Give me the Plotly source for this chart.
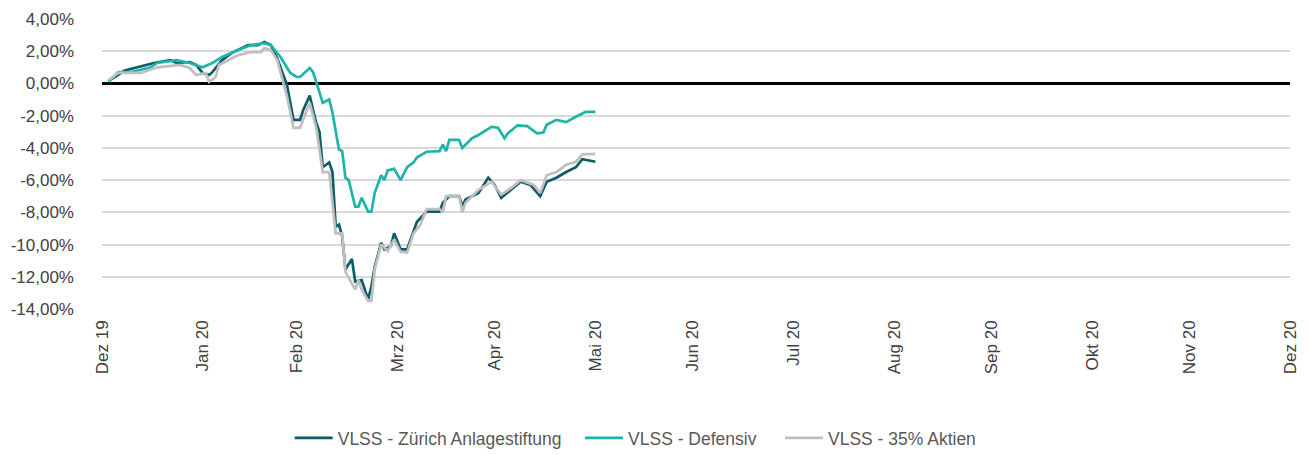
import plotly.graph_objects as go

# ---- data (YTD performance in %) ----
zurich_dates = ["2020-01-02","2020-01-07","2020-01-16","2020-01-21","2020-01-23","2020-01-27","2020-01-29","2020-01-31",
    "2020-02-02","2020-02-03","2020-02-06","2020-02-09","2020-02-14","2020-02-17","2020-02-19","2020-02-21","2020-02-23",
    "2020-02-25","2020-02-26","2020-02-28","2020-03-01","2020-03-02","2020-03-04","2020-03-05","2020-03-06","2020-03-07",
    "2020-03-08","2020-03-10","2020-03-11","2020-03-12","2020-03-13","2020-03-14","2020-03-15","2020-03-17","2020-03-18",
    "2020-03-20","2020-03-22","2020-03-23","2020-03-24","2020-03-26","2020-03-27","2020-03-29","2020-03-30","2020-03-31",
    "2020-04-01","2020-04-03","2020-04-05","2020-04-06","2020-04-09","2020-04-13","2020-04-14","2020-04-16","2020-04-19",
    "2020-04-20","2020-04-21","2020-04-25","2020-04-28","2020-04-30","2020-05-02","2020-05-05","2020-05-08","2020-05-11",
    "2020-05-14","2020-05-16","2020-05-19","2020-05-22","2020-05-25","2020-05-27","2020-05-31"]
zurich_vals = [0.15, 0.8, 1.27, 1.45, 1.27, 1.33, 1.15, 0.65,
    0.53, 0.7, 1.45, 1.9, 2.38, 2.38, 2.57, 2.38, 1.55,
    0.4, -0.1, -2.26, -2.26, -1.64, -0.75, -1.64, -2.45, -3.0,
    -5.2, -4.9, -5.5, -8.9, -8.76, -9.5, -11.55, -10.9, -12.3,
    -12.2, -13.4, -12.6, -11.4, -9.9, -10.3, -10.1, -9.3, -9.8,
    -10.3, -10.3, -9.1, -8.6, -7.96, -7.96, -7.4, -7.0, -7.0,
    -7.6, -7.2, -6.8, -5.85, -6.3, -7.1, -6.6, -6.1, -6.3,
    -7.0, -6.1, -5.85, -5.5, -5.2, -4.7, -4.86]

defensiv_dates = ["2020-01-02","2020-01-05","2020-01-09","2020-01-15","2020-01-17","2020-01-23","2020-01-27","2020-01-31",
    "2020-02-03","2020-02-06","2020-02-11","2020-02-15","2020-02-19","2020-02-21","2020-02-24","2020-02-27","2020-02-29",
    "2020-03-01","2020-03-04","2020-03-05","2020-03-06","2020-03-08","2020-03-10","2020-03-11","2020-03-13","2020-03-14",
    "2020-03-15","2020-03-16","2020-03-18","2020-03-19","2020-03-20","2020-03-22","2020-03-23","2020-03-24","2020-03-26",
    "2020-03-27","2020-03-28","2020-03-30","2020-04-01","2020-04-03","2020-04-05","2020-04-06","2020-04-09","2020-04-13",
    "2020-04-14","2020-04-15","2020-04-16","2020-04-19","2020-04-20","2020-04-23","2020-04-25","2020-04-29","2020-05-01",
    "2020-05-03","2020-05-04","2020-05-07","2020-05-10","2020-05-13","2020-05-15","2020-05-16","2020-05-19","2020-05-22",
    "2020-05-25","2020-05-28","2020-05-31"]
defensiv_vals = [0.1, 0.7, 0.7, 1.0, 1.27, 1.45, 1.27, 1.0,
    1.27, 1.64, 2.07, 2.38, 2.5, 2.38, 1.64, 0.65, 0.4,
    0.4, 0.96, 0.7, 0.1, -1.2, -1.0, -1.8, -4.1, -4.2,
    -5.85, -6.0, -7.65, -7.65, -7.1, -7.96, -7.96, -6.8, -5.7,
    -6.0, -5.4, -5.3, -6.0, -5.2, -4.9, -4.6, -4.24, -4.2,
    -3.8, -4.2, -3.5, -3.5, -4.0, -3.4, -3.2, -2.7, -2.75,
    -3.4, -3.1, -2.6, -2.65, -3.1, -3.05, -2.57, -2.26, -2.4,
    -2.07, -1.76, -1.76]

aktien_dates = ["2020-01-02","2020-01-05","2020-01-12","2020-01-17","2020-01-24","2020-01-27","2020-01-29","2020-02-01",
    "2020-02-02","2020-02-04","2020-02-05","2020-02-11","2020-02-15","2020-02-18","2020-02-19","2020-02-21","2020-02-23",
    "2020-02-25","2020-02-26","2020-02-28","2020-03-01","2020-03-04","2020-03-06","2020-03-08","2020-03-10","2020-03-12",
    "2020-03-14","2020-03-15","2020-03-18","2020-03-19","2020-03-20","2020-03-22","2020-03-23","2020-03-24","2020-03-26",
    "2020-03-28","2020-03-30","2020-04-01","2020-04-03","2020-04-05","2020-04-07","2020-04-09","2020-04-13","2020-04-14",
    "2020-04-15","2020-04-19","2020-04-20","2020-04-21","2020-04-25","2020-04-29","2020-05-02","2020-05-05","2020-05-08",
    "2020-05-12","2020-05-14","2020-05-16","2020-05-19","2020-05-22","2020-05-25","2020-05-27","2020-05-31"]
aktien_vals = [0.2, 0.65, 0.65, 1.0, 1.15, 0.96, 0.53, 0.65,
    0.1, 0.4, 1.15, 1.76, 1.95, 1.95, 2.2, 2.07, 1.45,
    0.03, -0.83, -2.76, -2.76, -1.2, -2.76, -5.5, -5.5, -9.3,
    -9.3, -11.7, -12.8, -12.2, -12.8, -13.5, -13.5, -11.55, -10.0,
    -10.4, -9.7, -10.45, -10.5, -9.3, -8.8, -7.8, -7.8, -8.0,
    -7.0, -7.0, -8.0, -7.4, -6.6, -6.1, -6.9, -6.5, -6.0,
    -6.3, -6.8, -5.7, -5.5, -5.05, -4.86, -4.4, -4.37]

series_names = ["VLSS - Zürich Anlagestiftung", "VLSS - Defensiv", "VLSS - 35% Aktien"]

x_tick_dates = ["2019-12-31","2020-01-31","2020-02-29","2020-03-31","2020-04-30","2020-05-31","2020-06-30",
    "2020-07-31","2020-08-31","2020-09-30","2020-10-31","2020-11-30","2020-12-31"]
x_tick_labels = ["Dez 19","Jan 20","Feb 20","Mrz 20","Apr 20","Mai 20","Jun 20",
    "Jul 20","Aug 20","Sep 20","Okt 20","Nov 20","Dez 20"]
y_tick_vals = [4, 2, 0, -2, -4, -6, -8, -10, -12, -14]
y_tick_labels = ["4,00%","2,00%","0,00%","-2,00%","-4,00%","-6,00%","-8,00%","-10,00%","-12,00%","-14,00%"]

colors = ["#0e5c68", "#1db5a9", "#bfbfbf"]
legend_ids = ["legend", "legend2", "legend3"]
legend_x = [0.158, 0.4024, 0.5707]

fig = go.Figure()
for name, xs, ys, c, lg in zip(series_names,
                               [zurich_dates, defensiv_dates, aktien_dates],
                               [zurich_vals, defensiv_vals, aktien_vals], colors, legend_ids):
    fig.add_trace(go.Scatter(x=xs, y=ys, mode="lines", name=name, legend=lg,
                             line=dict(color=c, width=2.7)))

font_family = "Liberation Sans, Arial, sans-serif"
legend_common = dict(orientation="h", xanchor="left", yref="container", y=0.038, yanchor="middle",
                     font=dict(size=17.5, color="#595959"), bgcolor="rgba(0,0,0,0)",
                     itemwidth=38)
layout_legends = {lg: dict(x=lx, **legend_common) for lg, lx in zip(legend_ids, legend_x)}

fig.update_layout(
    width=1301, height=447,
    margin=dict(l=94, r=19, t=11, b=146, autoexpand=False),
    paper_bgcolor="white", plot_bgcolor="white",
    font=dict(family=font_family, size=17, color="#404040"),
    showlegend=True,
    **layout_legends,
)
fig.update_xaxes(
    type="date", range=["2019-12-31", "2020-12-31"],
    tickmode="array", tickvals=x_tick_dates, ticktext=x_tick_labels,
    tickangle=-90, showgrid=False, zeroline=False, showline=False,
    ticks="", ticklabelstandoff=7, automargin=False,
    tickfont=dict(size=17, color="#404040"),
)
fig.update_yaxes(
    range=[-14, 4], tickmode="array", tickvals=y_tick_vals, ticktext=y_tick_labels,
    showgrid=True, gridcolor="#d9d9d9", gridwidth=2,
    zeroline=True, zerolinecolor="#000000", zerolinewidth=3,
    showline=False, ticks="", ticklabelstandoff=27, automargin=False,
    tickfont=dict(size=17, color="#404040"),
)

fig.write_html("out.html")
